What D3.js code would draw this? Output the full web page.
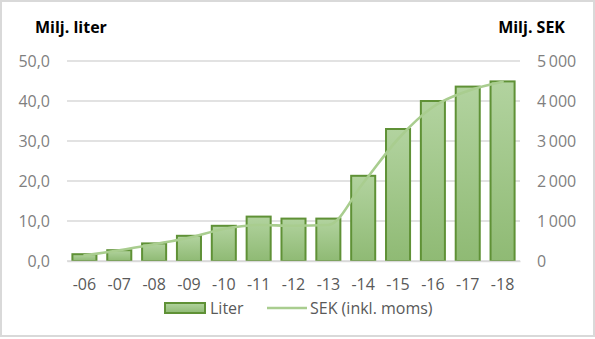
<!DOCTYPE html>
<html>
<head>
<meta charset="utf-8">
<script src="https://cdn.jsdelivr.net/npm/d3@7"></script>
<style>
  body { margin: 0; background: #fff; }
  text { font-family: "Open Sans", sans-serif; }
</style>
</head>
<body>
<div id="chart"><svg></svg></div>
<script>
(function() {

  var width = 595, height = 339;

  // data
  var years = ['-06', '-07', '-08', '-09', '-10', '-11', '-12', '-13', '-14', '-15', '-16', '-17', '-18']
  var liter = [1.7, 2.7, 4.4, 6.3, 8.8, 11.1, 10.6, 10.6, 21.3, 33.0, 40.0, 43.6, 44.9]
  var sek = [140, 270, 420, 580, 800, 900, 880, 900, 1950, 3050, 3850, 4250, 4480]
  var leftTicks = [0, 10, 20, 30, 40, 50]
  var rightTicks = [0, 1000, 2000, 3000, 4000, 5000]

  var svg = d3.select("#chart").select("svg")
    .attr("width", width)
    .attr("height", height)

  svg.append("rect")
    .attr("x", 1).attr("y", 1)
    .attr("width", width - 2).attr("height", height - 4)
    .attr("fill", "#fff")
    .attr("stroke", "#d9d9d9")
    .attr("stroke-width", 2)

  var defs = svg.append("defs")
  var grad = defs.append("linearGradient")
    .attr("id", "barGrad")
    .attr("x1", 0).attr("y1", 0).attr("x2", 0).attr("y2", 1)
  grad.append("stop").attr("offset", "0%").attr("stop-color", "#b2d39f")
  grad.append("stop").attr("offset", "100%").attr("stop-color", "#8fba74")

  var plotLeft = 67, plotRight = 520, plotTop = 61, plotBottom = 261

  const xScale = d3.scaleBand().domain(years).range([plotLeft, plotRight]).paddingInner(0.31).paddingOuter(0.155)
  const yLeft = d3.scaleLinear().domain([0, 50]).range([plotBottom, plotTop])
  const yRight = d3.scaleLinear().domain([0, 5000]).range([plotBottom, plotTop])

  // gridlines
  svg.append("g")
    .selectAll("line")
    .data(leftTicks)
    .enter().append("line")
    .attr("x1", plotLeft).attr("x2", plotRight)
    .attr("y1", d => yLeft(d)).attr("y2", d => yLeft(d))
    .attr("stroke", "#d9d9d9")
    .attr("stroke-width", 1.3)

  // left axis
  var leftAxis = d3.axisLeft(yLeft)
    .tickValues(leftTicks)
    .tickSize(0)
    .tickPadding(17)
    .tickFormat(d => d3.format(".1f")(d).replace(".", ","))
  var gl = svg.append("g").attr("transform", "translate(" + plotLeft + ",0)").call(leftAxis)
  gl.select(".domain").remove()
  gl.selectAll("text").attr("fill", "#7f7f7f").style("font-size", "16px").style("font-family", "Open Sans")

  // right axis
  var rightAxis = d3.axisRight(yRight)
    .tickValues(rightTicks)
    .tickSize(0)
    .tickPadding(17)
    .tickFormat(d => d3.format(",")(d).replace(",", "\u2009"))
  var gr = svg.append("g").attr("transform", "translate(" + plotRight + ",0)").call(rightAxis)
  gr.select(".domain").remove()
  gr.selectAll("text").attr("fill", "#7f7f7f").style("font-size", "16px").style("font-family", "Open Sans")

  // bars
  svg.append("g")
    .selectAll("rect")
    .data(liter)
    .enter().append("rect")
    .attr("x", (d, i) => xScale(years[i]))
    .attr("y", d => yLeft(d))
    .attr("width", xScale.bandwidth())
    .attr("height", d => plotBottom - yLeft(d))
    .attr("fill", "url(#barGrad)")
    .attr("stroke", "#5f9136")
    .attr("stroke-width", 2)

  // line
  var line = d3.line()
    .x((d, i) => xScale(years[i]) + xScale.bandwidth() / 2)
    .y(d => yRight(d))
    .curve(d3.curveMonotoneX)
  svg.append("path")
    .datum(sek)
    .attr("d", line)
    .attr("fill", "none")
    .attr("stroke", "#a9cd8f")
    .attr("stroke-width", 2.6)
    .attr("stroke-linecap", "round")

  // x axis labels
  var xAxis = d3.axisBottom(xScale).tickSize(0).tickPadding(18)
  var gx = svg.append("g").attr("transform", "translate(0," + plotBottom + ")").call(xAxis)
  gx.select(".domain").attr("stroke", "#d9d9d9").attr("stroke-width", 1.3)
  gx.selectAll("text").attr("fill", "#595959").style("font-size", "16px").style("font-family", "Open Sans")

  // axis titles
  svg.append("text")
    .attr("x", 35).attr("y", 33)
    .attr("font-weight", "bold")
    .attr("font-size", 16)
    .attr("fill", "#000")
    .text("Milj. liter")
  svg.append("text")
    .attr("x", 565).attr("y", 33)
    .attr("text-anchor", "end")
    .attr("font-weight", "bold")
    .attr("font-size", 16)
    .attr("fill", "#000")
    .text("Milj. SEK")

  // legend
  var lg = svg.append("g")
  lg.append("rect")
    .attr("x", 165).attr("y", 303)
    .attr("width", 40).attr("height", 10)
    .attr("fill", "url(#barGrad)")
    .attr("stroke", "#5f9136")
    .attr("stroke-width", 2)
  lg.append("text")
    .attr("x", 210).attr("y", 314)
    .attr("font-size", 16).attr("fill", "#595959")
    .text("Liter")
  lg.append("line")
    .attr("x1", 267).attr("x2", 307)
    .attr("y1", 308).attr("y2", 308)
    .attr("stroke", "#a9cd8f").attr("stroke-width", 2.6)
  lg.append("text")
    .attr("x", 310).attr("y", 314)
    .attr("font-size", 16).attr("fill", "#595959")
    .text("SEK (inkl. moms)")

})()
</script>
</body>
</html>
